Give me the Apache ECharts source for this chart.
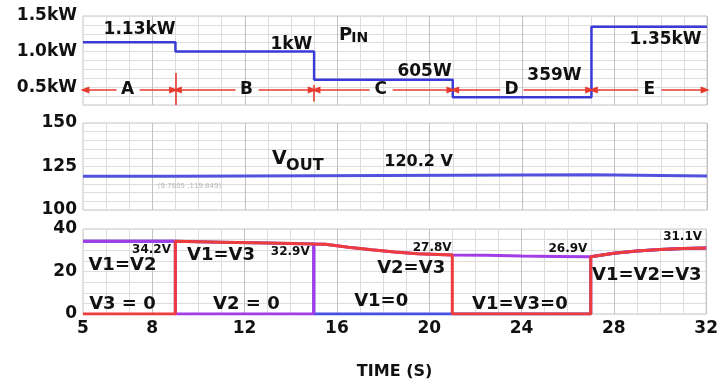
<!DOCTYPE html>
<html>
<head>
<meta charset="utf-8">
<script src="https://cdn.jsdelivr.net/npm/echarts@6/dist/echarts.min.js"></script>
<style>
  html, body { margin: 0; padding: 0; background: #ffffff; }
  #chart { width: 721px; height: 381px; }
</style>
</head>
<body>
<div id="chart"></div>
<script>
// Input power (kW) at the start of each load phase, held until the next edge
const pinTime = [5, 9, 15, 21, 27, 32];
const pinKW = [1.13, 1.0, 0.605, 0.359, 1.35, 1.35];

// Output voltage (V), held between edges
const voutTime = [5, 9, 27, 32];
const voutV = [119.4, 120.2, 119.5, 119.5];

// Voltage of the shared rail carried by every active converter (V)
const railTime = [5, 9, 11, 13, 15, 15.5, 16.5, 17.5, 18.5, 19.5, 21, 22.5, 24, 25.5, 27, 28, 29, 30, 31, 32];
const railVolt = [34.2, 34.2, 33.8, 33.4, 32.9, 32.8, 31.4, 30.2, 29.2, 28.4, 27.8, 27.6, 27.3, 27.1, 26.9, 28.6, 29.7, 30.4, 30.8, 31.1];

// Load phases and which converter outputs are live in each one
const phaseEdges = [5, 9, 15, 21, 27, 32];
const phaseNames = ['A', 'B', 'C', 'D', 'E'];
const v1Active = [1, 1, 0, 0, 1];
const v2Active = [1, 0, 1, 1, 1];
const v3Active = [0, 1, 1, 0, 1];

// Tick labels
const timeTicks = [5, 8, 12, 16, 20, 24, 28, 32];
const pinTicks = [0.5, 1.0, 1.5];
const voutTicks = [100, 125, 150];
const railTicks = [0, 20, 40];

// ---- annotation anchors (data coordinates) ----
const pinTagAt = [[7.47, 1.30], [14.04, 1.09], [19.8, 0.713], [25.42, 0.657], [30.23, 1.163]];
const phaseTagT = [6.95, 12.1, 17.9, 23.56, 29.53];
const phaseRowKW = 0.46;
const railTagTimes = [9, 15, 21, 27, 32];
const railTagAt = [[7.99, 30.0], [14.0, 29.1], [20.15, 30.9], [26.03, 30.5], [31.0, 35.9]];
const modeTags = [
  ['V1=V2', 6.73, 22.6], ['V1=V3', 11.0, 27.5], ['V2=V3', 19.24, 21.2], ['V1=V2=V3', 29.45, 18.0],
  ['V3 = 0', 6.73, 4.1], ['V2 = 0', 12.1, 4.1], ['V1=0', 17.94, 5.5], ['V1=V3=0', 23.95, 4.5]
];

const FONT = 'DejaVu Sans';
const INK = '#111111';
const BLUE = '#3a3ad4';
const PURPLE = '#a23ce6';
const RED = '#ee3b3b';
const ARROW = '#e8392e';

const near = (list, v) => list.some(t => Math.abs(t - v) < 1e-6);
const fmtPower = kw => kw >= 1 ? `${+kw.toFixed(2)}kW` : `${Math.round(kw * 1000)}W`;

function converterTrace(active) {
  const pts = [];
  for (let i = 0; i < active.length; i++) {
    const a = phaseEdges[i], b = phaseEdges[i + 1];
    railTime.forEach((t, k) => {
      if (t >= a && t <= b) pts.push([t, active[i] ? railVolt[k] : 0]);
    });
  }
  return pts;
}

function tag(text, t, v, size, extra) {
  return {
    value: [t, v],
    label: Object.assign({
      show: true, formatter: text, fontSize: size,
      position: [0, 0], align: 'center', verticalAlign: 'middle',
      color: INK, fontFamily: FONT, fontWeight: 'bold',
      textBorderWidth: 0
    }, extra || {})
  };
}

function noteSeries(gridIdx, data, markLine) {
  const s = {
    type: 'scatter',
    xAxisIndex: gridIdx,
    yAxisIndex: gridIdx,
    symbolSize: 1,
    itemStyle: { color: 'rgba(0,0,0,0)', opacity: 1 },
    silent: true,
    z: 10,
    label: { show: true, position: [0, 0], color: INK },
    data: data
  };
  if (markLine) s.markLine = markLine;
  return s;
}

// phase arrows: "<-- A -->" spanning each phase
const arrowLines = [];
phaseNames.forEach((n, i) => {
  const a = phaseEdges[i], b = phaseEdges[i + 1], c = phaseTagT[i];
  arrowLines.push([{ coord: [c - 0.5, phaseRowKW], symbol: 'none' }, { coord: [a + 0.08, phaseRowKW], symbol: 'triangle' }]);
  arrowLines.push([{ coord: [c + 0.5, phaseRowKW], symbol: 'none' }, { coord: [b - 0.08, phaseRowKW], symbol: 'triangle' }]);
});
arrowLines.push([{ coord: [9, 0.25], symbol: 'none' }, { coord: [9, 0.70], symbol: 'none' }]);
arrowLines.push([{ coord: [15, 0.30], symbol: 'none' }, { coord: [15, 0.53], symbol: 'none' }]);

const pinNotes = pinTagAt.map((p, i) => tag(fmtPower(pinKW[i]), p[0], p[1], 17));
pinNotes.push(tag('P', 16.38, 1.226, 18));
pinNotes.push(tag('IN', 17.0, 1.177, 14));
phaseNames.forEach((n, i) => pinNotes.push(tag(n, phaseTagT[i], phaseRowKW, 17)));

const voutNotes = [
  tag('V', 13.52, 128.9, 19),
  tag('OUT', 14.62, 125.3, 16),
  tag(`${voutV[1].toFixed(1)} V`, 19.54, 127.6, 16),
  tag('(9.7805 ,119.849)', 9.63, 113.2, 7, { color: '#b5b5b5', fontWeight: 'normal' })
];

const railNotes = railTagTimes.map((t, i) =>
  tag(`${railVolt[railTime.indexOf(t)].toFixed(1)}V`, railTagAt[i][0], railTagAt[i][1], 12));
modeTags.forEach(m => railNotes.push(tag(m[0], m[1], m[2], 18)));

const gridBox = [
  { top: 16, height: 89 },
  { top: 123, height: 87 },
  { top: 229, height: 88 }
];

const minorGrid = '#dddddd';
const majorGrid = '#c2c2c2';

const xAxes = gridBox.map((g, i) => ({
  gridIndex: i,
  type: 'value',
  min: 5, max: 32, interval: 1,
  axisLine: { show: false },
  axisTick: { show: false },
  splitLine: { show: true, lineStyle: { color: [minorGrid, minorGrid, minorGrid, majorGrid], width: 1 } },
  axisLabel: {
    show: i === 2,
    margin: 6,
    color: INK, fontFamily: FONT, fontWeight: 'bold', fontSize: 17,
    formatter: v => near(timeTicks, v) ? String(v) : ''
  },
  name: i === 2 ? 'TIME (S)' : '',
  nameLocation: 'middle',
  nameGap: 50,
  nameTextStyle: { color: INK, fontFamily: FONT, fontWeight: 'bold', fontSize: 16 }
}));

function yAxis(i, min, max, interval, ticks, fmt, pad) {
  return {
    gridIndex: i, type: 'value', min, max, interval,
    axisLine: { show: false },
    axisTick: { show: false },
    splitLine: { show: true, lineStyle: { color: minorGrid, width: 1 } },
    axisLabel: {
      margin: 6, color: INK, fontFamily: FONT, fontWeight: 'bold', fontSize: 17,
      padding: pad,
      formatter: v => near(ticks, v) ? fmt(v) : ''
    }
  };
}

const option = {
  animation: false,
  backgroundColor: '#ffffff',
  grid: gridBox.map(g => ({
    left: 83, right: 14, top: g.top, height: g.height,
    show: true, borderColor: '#c6c6c6', borderWidth: 1, backgroundColor: 'transparent'
  })),
  xAxis: xAxes,
  yAxis: [
    yAxis(0, 0.25, 1.5, 0.125, pinTicks, v => v.toFixed(1) + 'kW', [8, 0, 0, 0]),
    yAxis(1, 100, 150, 5, voutTicks, v => String(v), [0, 0, 0, 0]),
    yAxis(2, 0, 40, 5, railTicks, v => String(v), [0, 0, 0, 0])
  ],
  series: [
    {
      name: 'PIN', type: 'line', xAxisIndex: 0, yAxisIndex: 0, step: 'end',
      showSymbol: false, silent: true,
      lineStyle: { color: BLUE, width: 2.5 },
      data: pinTime.map((t, i) => [t, pinKW[i]])
    },
    {
      name: 'VOUT', type: 'line', xAxisIndex: 1, yAxisIndex: 1, step: 'end',
      showSymbol: false, silent: true,
      lineStyle: { color: '#5252de', width: 3 },
      data: voutTime.map((t, i) => [t, voutV[i]])
    },
    {
      name: 'V1', type: 'line', xAxisIndex: 2, yAxisIndex: 2, showSymbol: false, silent: true,
      lineStyle: { color: '#4650e4', width: 3 }, data: converterTrace(v1Active)
    },
    {
      name: 'V2', type: 'line', xAxisIndex: 2, yAxisIndex: 2, showSymbol: false, silent: true,
      lineStyle: { color: PURPLE, width: 3 }, data: converterTrace(v2Active)
    },
    {
      name: 'V3', type: 'line', xAxisIndex: 2, yAxisIndex: 2, showSymbol: false, silent: true,
      lineStyle: { color: RED, width: 3 }, data: converterTrace(v3Active)
    },
    noteSeries(0, pinNotes, {
      silent: true, animation: false,
      symbolSize: [7, 9],
      label: { show: false },
      lineStyle: { color: ARROW, width: 1.6, type: 'solid' },
      emphasis: { disabled: true },
      data: arrowLines
    }),
    noteSeries(1, voutNotes),
    noteSeries(2, railNotes)
  ]
};

const chart = echarts.init(document.getElementById('chart'), null, { renderer: 'canvas' });
chart.setOption(option);
</script>
</body>
</html>
